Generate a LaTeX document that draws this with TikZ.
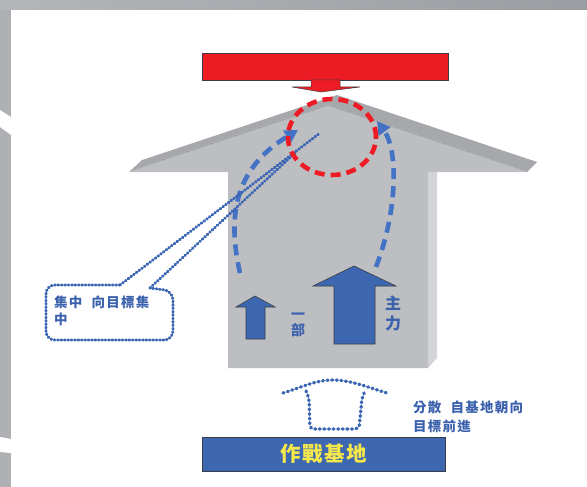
\documentclass[tikz,border=0pt]{standalone}
\usepackage{fontspec}
\newfontfamily\cjk{Noto Sans CJK TC}
\usetikzlibrary{arrows.meta,shapes.geometric}
\definecolor{bandL}{HTML}{B4B5B9}
\definecolor{bandR}{HTML}{9C9DA2}
\definecolor{stripgray}{HTML}{AFB0B4}
\definecolor{faceg}{HTML}{BDBEC2}
\definecolor{bevelg}{HTML}{A7A8AC}
\definecolor{panelg}{HTML}{D4D5D8}
\definecolor{redc}{HTML}{ED1C24}
\definecolor{barblue}{HTML}{3D67B1}
\definecolor{curveblue}{HTML}{4472C4}
\definecolor{dotblue}{HTML}{3A65B3}
\definecolor{txtblue}{HTML}{3C62AD}
\definecolor{yelc}{HTML}{F6E84A}
\definecolor{edgec}{HTML}{3A3D45}
\tikzset{
  dotline/.style={dotblue, line width=2.9pt, dash pattern=on 0.9pt off 2.5pt, line cap=round},
  dotbig/.style={dotblue, line width=3.3pt, dash pattern=on 1pt off 3.6pt, line cap=round},
  bluedash/.style={curveblue, line width=4.6pt, dash pattern=on 11pt off 7pt, -{Triangle[length=13pt,width=14pt]}},
  reddash/.style={redc, line width=4.6pt, dash pattern=on 10pt off 6pt},
  bluearrow/.style={fill=barblue, draw=edgec, line width=0.6pt},
  bluetxt/.style={text=txtblue, font=\cjk\bfseries, inner sep=0pt},
}
\begin{document}
\begin{tikzpicture}[x=1pt,y=-1pt]
\useasboundingbox (0,0) rectangle (587,487);
% frame pieces
\shade[left color=bandL, right color=bandR] (0,0) rectangle (587,10);
\fill[stripgray] (0,10) rectangle (11,487);
\fill[white] (0,110) -- (11,117) -- (11,135) -- (0,127) -- cycle;
\fill[white] (0,437) -- (11,439) -- (11,453) -- (0,452) -- cycle;
% gray house
\fill[panelg] (428,172) -- (437,172) -- (437,358) -- (428,368) -- cycle;
\fill[faceg] (328,106) -- (527,172) -- (428,172) -- (428,368) -- (228,368) -- (228,172) -- (129,172) -- cycle;
\fill[bevelg] (337,95) -- (537,162) -- (527,172) -- (328,106) -- (129,172) -- (142,160) -- cycle;
% red bar and its arrow
\node (redbar) [draw=edgec, line width=0.5pt, fill=redc, minimum width=246, minimum height=27, anchor=north west, inner sep=0pt] at (202,53) {};
\fill[redc, draw=edgec, line width=0.5pt] (311,80) -- (340,80) -- (340,87) -- (360,87) -- (321,92) -- (292,87) -- (311,87) -- cycle;
% blue arrows
\fill[bluearrow] (246,339) -- (246,307) -- (236,307) -- (255,296) -- (275,307) -- (265,307) -- (265,339) -- cycle;
\fill[bluearrow] (334,344) -- (334,286) -- (313,286) -- (354,266) -- (396,286) -- (375,286) -- (375,344) -- cycle;
\node (ichibu) [bluetxt, font=\cjk\bfseries\fontsize{14}{16.5}\selectfont, align=center] at (298,325) {一\\部};
\node (shuryoku) [bluetxt, font=\cjk\bfseries\fontsize{16}{20}\selectfont, align=center] at (393,313) {主\\力};
% curves
\coordinate (lstart) at (240,273);
\coordinate (lend) at (298,130);
\coordinate (rstart) at (376,267);
\coordinate (rend) at (377,121);
\draw[bluedash] (lstart) .. controls (228,220) and (232,170) .. (lend);
\draw[bluedash] (rstart) .. controls (398,210) and (398,150) .. (rend);
% callout
\coordinate (tipA) at (320,133);
\coordinate (tipB) at (296,152);
\coordinate (baseA) at (120,285);
\coordinate (baseB) at (150,288);
\draw[dotline, rounded corners=9pt] (baseA) -- (46,285) -- (46,340) -- (173,340) -- (173,291) -- (baseB);
\draw[dotline] (baseA) -- (tipA);
\draw[dotline] (baseB) -- (tipB);
\node (calltxt) [bluetxt, font=\cjk\bfseries\fontsize{13.5}{17}\selectfont\addfontfeatures{LetterSpace=9}, align=left, anchor=west] at (54,310.5) {集中 \hspace{5pt}向目標集\\中};
% red dashed circle
\node (focus) [draw, reddash, ellipse, minimum width=88pt, minimum height=76pt, inner sep=0pt] at (332,137) {};
% dotted small house
\draw[dotbig] (283,393) .. controls (300,388) and (315,380) .. (333,380) .. controls (351,380) and (370,388) .. (387,393);
\draw[dotbig, rounded corners=4pt] (306,391) -- (309,398) -- (310,429) -- (359,429) -- (362,398) -- (365,391);
% base
\node (base) [draw=edgec, line width=0.6pt, fill=barblue, minimum width=243, minimum height=34, inner sep=0pt, text=yelc, font=\cjk\bfseries\fontsize{20.5}{22}\selectfont\addfontfeatures{LetterSpace=8}] at (323.5,454) {作戰基地};
\node (disp) [bluetxt, font=\cjk\bfseries\fontsize{13.5}{19.5}\selectfont\addfontfeatures{LetterSpace=9}, align=left, anchor=west] at (413,417) {分散 \hspace{5pt}自基地朝向\\目標前進};
\end{tikzpicture}
\end{document}
